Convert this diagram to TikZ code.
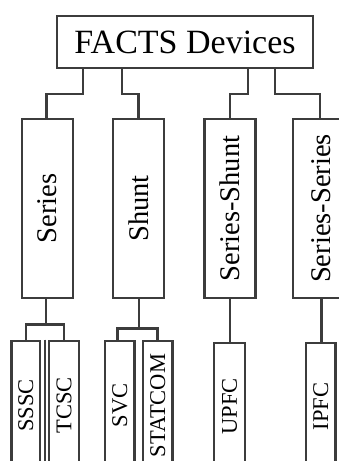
\documentclass[tikz,border=0pt]{standalone}
\usepackage{fontspec}
\setmainfont{Liberation Serif}
\definecolor{edgecol}{HTML}{3C3C3C}
\tikzset{
 box/.style={draw=edgecol, line width=2.6pt, fill=white, inner sep=0pt, text=black},
 topbox/.style={box, minimum width=256pt, minimum height=52pt, font=\fontsize{34}{36}\selectfont},
 midbox/.style={box, minimum width=51pt, minimum height=179pt, font=\fontsize{28.5}{30}\selectfont},
 leafbox/.style={box, minimum width=29.5pt, minimum height=129pt, font=\fontsize{22.5}{24}\selectfont},
 link/.style={draw=edgecol, line width=2.6pt},
}
\begin{document}
\begin{tikzpicture}[x=1pt,y=1pt]
\useasboundingbox (0,0) rectangle (339,461);
\fill[white] (0,0) rectangle (339,461);
\clip (0,0) rectangle (339,461);
\node[topbox] (top) at (185,419) {FACTS Devices};
\node[midbox] (series) at (47.5,252.5) {\rotatebox{90}{Series}};
\node[midbox] (shunt) at (138.5,252.5) {\rotatebox{90}{Shunt}};
\node[midbox] (ss) at (230,252.5) {\rotatebox{90}{Series-Shunt}};
\node[midbox, minimum width=56pt] (sser) at (321,252.5) {\rotatebox{90}{Series-Series}};
\node[leafbox, minimum width=28.5pt] (sssc) at (25.75,55.5) {\rotatebox{90}{SSSC}};
\node[leafbox, minimum width=30pt] (tcsc) at (64,55.5) {\rotatebox{90}{TCSC}};
\node[leafbox] (svc) at (119.75,55.5) {\rotatebox{90}{SVC}};
\node[leafbox] (statcom) at (157.75,55.5) {\rotatebox{90}{STATCOM}};
\node[leafbox, minimum width=31pt, minimum height=127pt] (upfc) at (229.5,54.5) {\rotatebox{90}{UPFC}};
\node[leafbox, minimum height=127pt] (ipfc) at (320.75,54.5) {\rotatebox{90}{IPFC}};
% top level links
\draw[link] (83,0 |- top.south) -- (83,367) -| ([xshift=-0.8pt]series.north);
\draw[link] (122,0 |- top.south) -- (122,367) -| (shunt.north);
\draw[link] (248,0 |- top.south) -- (248,367) -| (ss.north);
\draw[link] (275,0 |- top.south) -- (275,367) -| ([xshift=-1pt]sser.north);
% lower links
\draw[link] ([xshift=-1.5pt]series.south) -- ++(0,-25.5) coordinate (sj) -| ([xshift=0.25pt]sssc.north);
\draw[link] (sj) -| (tcsc.north);
\draw[link] ([xshift=0.5pt]shunt.south) -- ++(0,-29) coordinate (hj) -| ([xshift=-2.25pt]svc.north);
\draw[link] (hj) -| (statcom.north);
\draw[link] (ss.south) -- (ss.south |- upfc.north);
\draw[link] ([xshift=0.7pt]sser.south) -- ([xshift=0.7pt]sser.south |- ipfc.north);
% doubled right side of the SSSC box
\draw[draw=edgecol, line width=1.6pt] ([xshift=3.4pt]sssc.north east) -- ([xshift=3.4pt]sssc.south east);
\end{tikzpicture}
\end{document}
